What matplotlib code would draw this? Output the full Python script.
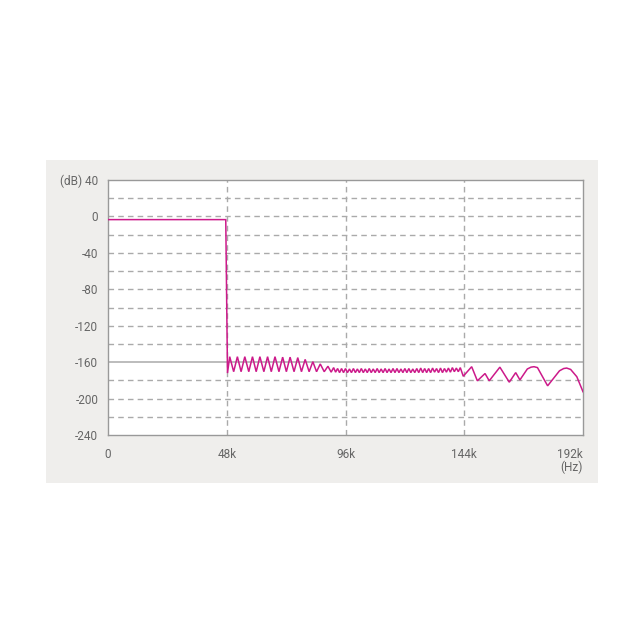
import matplotlib
matplotlib.use("Agg")
import matplotlib.pyplot as plt
from matplotlib.patches import Rectangle

# ---- data (frequency in kHz, level in dB) ----
passband_khz = [0.0, 47.6]
passband_db = [-3.5, -3.5]

ripple_khz = [48.3, 49.2, 50.8, 52.3, 53.8, 55.3, 56.9, 58.4, 59.9, 61.4, 63.0,
              64.5, 66.0, 67.5, 69.1, 70.6, 72.1, 73.6, 75.2, 76.7, 78.2, 79.7,
              81.3, 82.8, 84.3, 85.8, 87.4, 88.9, 90.2, 91.2, 92.0]
ripple_db = [-172.0, -154.0, -170.5, -154.0, -170.5, -154.0, -170.5, -154.0, -170.5,
             -154.0, -170.5, -154.0, -170.5, -154.0, -170.5, -154.5, -170.5, -154.5,
             -170.5, -155.0, -170.5, -157.0, -170.5, -159.5, -170.5, -162.0, -170.5,
             -164.5, -171.0, -166.0, -171.0]

fine_khz = [92.8, 93.6, 94.4, 95.2, 96.0, 96.8, 97.6, 98.4, 99.2, 100.0, 100.8,
            101.6, 102.4, 103.2, 104.0, 104.8, 105.6, 106.4, 107.2, 108.0, 108.8,
            109.6, 110.4, 111.2, 112.0, 112.8, 113.6, 114.4, 115.2, 116.0, 116.8,
            117.6, 118.4, 119.2, 120.0, 120.8, 121.6, 122.4, 123.2, 124.0, 124.8,
            125.6, 126.4, 127.2, 128.0, 128.8, 129.6, 130.4, 131.2, 132.0, 132.8,
            133.6, 134.4, 135.2, 136.0, 136.8, 137.6, 138.4, 139.2, 140.0, 140.8,
            141.6, 142.4]
fine_db = [-167.0, -171.5, -167.0, -171.5, -167.0, -171.5, -167.5, -171.5, -167.0,
           -171.5, -167.5, -171.5, -167.0, -171.5, -167.5, -171.5, -167.0, -171.5,
           -167.5, -171.5, -167.0, -171.5, -167.5, -171.5, -167.0, -171.5, -167.5,
           -171.5, -167.0, -171.5, -167.0, -171.5, -167.5, -171.5, -167.0, -171.5,
           -167.0, -171.5, -167.5, -171.5, -167.0, -171.5, -166.5, -171.5, -167.0,
           -171.5, -167.0, -171.5, -166.5, -171.0, -167.0, -171.5, -166.5, -171.5,
           -167.0, -171.0, -166.5, -171.0, -166.0, -170.5, -166.5, -170.5, -166.0]

tail_khz = [143.6, 147.0, 149.3, 152.4, 154.1, 158.4, 162.2, 164.8, 166.5, 169.5,
            171.0, 172.2, 173.6, 177.7, 182.5, 184.2, 185.4, 187.0, 189.5, 192.0]
tail_db = [-175.5, -165.0, -180.5, -172.5, -180.5, -165.5, -182.0, -171.5, -179.5,
           -167.5, -165.5, -165.0, -166.0, -186.0, -169.5, -167.0, -166.5, -168.0,
           -176.0, -192.5]

freq_khz = passband_khz + ripple_khz + fine_khz + tail_khz
level_db = passband_db + ripple_db + fine_db + tail_db

x_ticks = [0, 48, 96, 144, 192]
x_labels = ["0", "48k", "96k", "144k", "192k\n(Hz)"]
y_ticks = [40, 0, -40, -80, -120, -160, -200, -240]
y_labels = ["(dB) 40", "0", "-40", "-80", "-120", "-160", "-200", "-240"]
y_minor = [20, -20, -60, -100, -140, -180, -220]

W = 644
fig = plt.figure(figsize=(6.44, 6.44), dpi=100)
fig.patch.set_facecolor("white")
fig.patches.append(Rectangle((46 / W, 1 - 483 / W), 552 / W, 323 / W,
                             transform=fig.transFigure, facecolor="#efeeec",
                             edgecolor="none", zorder=-5))

ax = fig.add_axes([108 / W, 1 - 435 / W, 475 / W, 255 / W])
ax.set_zorder(2)
ax.set_facecolor("white")
ax.set_xlim(0, 192)
ax.set_ylim(-240, 40)

grid_kw = dict(color="#aaaaaa", lw=1.0, ls=(0, (4, 3)), zorder=1)
for y in y_ticks[1:-1] + y_minor:
    if y == -160:
        ax.axhline(y, color="#aaaaaa", lw=1.1, ls="-", zorder=1)
    else:
        ax.axhline(y, **grid_kw)
for x in x_ticks[1:-1]:
    ax.axvline(x, **grid_kw)

ax.plot(freq_khz, level_db, color="#cc1a8a", lw=1.1, zorder=3,
        solid_joinstyle="miter")

ax.set_xticks(x_ticks)
ax.set_xticklabels(x_labels)
ax.set_yticks(y_ticks)
ax.set_yticklabels(y_labels)
ax.tick_params(length=0, labelsize=8.5, labelcolor="#666666")
ax.tick_params(axis="y", pad=7)
ax.tick_params(axis="x", pad=9)
for lab in ax.get_xticklabels() + ax.get_yticklabels():
    lab.set_fontfamily(["Roboto", "DejaVu Sans"])
xl = ax.get_xticklabels()
xl[-1].set_ha("right")
xl[-1].set_multialignment("right")
xl[-1].set_linespacing(1.0)

for s in ax.spines.values():
    s.set_color("#999999")
    s.set_linewidth(1.0)

fig.savefig("out.png", dpi=100, facecolor="white")
